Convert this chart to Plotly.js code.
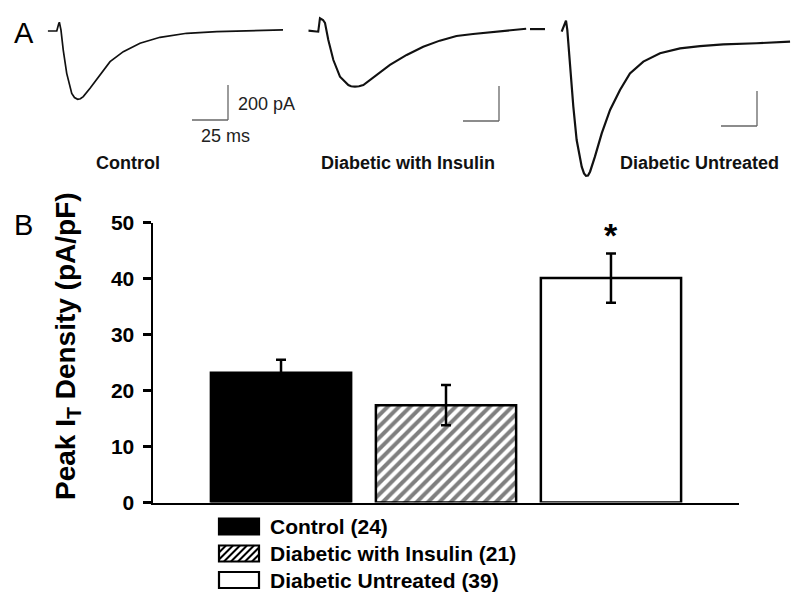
<!DOCTYPE html>
<html>
<head>
<meta charset="utf-8">
<script src="https://cdn.plot.ly/plotly-3.0.1.min.js"></script>
<style>html,body{margin:0;padding:0;background:#fff;}#chart{width:800px;height:598px;}</style>
</head>
<body>
<div id="chart"></div>
<script>
// ---------- Panel B data ----------
const groups = ["Control", "Diabetic with Insulin", "Diabetic Untreated"];
const legendLabels = ["Control (24)", "Diabetic with Insulin (21)", "Diabetic Untreated (39)"];
const peakDensity = [23.2, 17.4, 40.1];      // pA/pF
const peakSEM = [2.3, 3.6, 4.4];
const yTicks = [0, 10, 20, 30, 40, 50];

// ---------- Panel A traces (time ms, current pA) ----------
const ctrlT = [0, 6.3, 7.6, 8.1, 9.2, 10.8, 13.2, 16.7, 18.6, 20.8, 22.7, 24.7, 29.4, 36.3, 43.3, 52.5, 64.1, 78, 96.5, 117.4, 140.5, 163.4];
const ctrlI = [0, 0, 40, 50, 6, -109, -242, -357, -380, -390, -387, -375, -327, -251, -175, -118, -70, -36, -13, -4, 2, 6];

const insT = [0, 6.9, 8.1, 9.2, 10.2, 11.6, 13.9, 17.4, 22, 27.8, 29.7, 32.4, 35.2, 38.2, 47.5, 56.7, 68.3, 79.8, 91.3, 102.9, 114.4, 125.9, 137.4, 151.3];
const insI = [2, -4, 73, 68, 63, 46, -51, -166, -261, -309, -316, -318, -316, -309, -251, -194, -137, -90, -55, -29, -17, -7, 2, 13];

const untT = [0, 10.4, null, 22, 25, 25.9, 27.8, 30.1, 32.4, 35.9, 37.5, 38.9, 40.3, 41.7, 45.1, 49.8, 55.6, 62.5, 69.4, 78.7, 90.3, 104.2, 118.1, 134.2, 157.4, 180.6];
const untI = [11, 11, null, -4, 59, 6, -210, -433, -623, -775, -814, -827, -826, -804, -718, -585, -451, -337, -242, -175, -127, -99, -86, -76, -70, -61];

const scaleBarPA = 200, scaleBarMS = 25;
const traceNames = ["Control", "Diabetic with Insulin", "Diabetic Untreated"];

// ---------- layout helpers ----------
const W = 800, H = 598;
const px = x => x / W;
const py = y => 1 - y / H;
const MS_PX = 1.44, PA_PX = 0.175;
const topY0 = 8, topY1 = 192, baseY = 31;
const yTopRange = [-(topY1 - baseY) / PA_PX, (baseY - topY0) / PA_PX];
function panelX(x0, x1) {
  return {domain: [px(x0), px(x1)], range: [0, (x1 - x0) / MS_PX], visible: false, fixedrange: true};
}
function panelY() {
  return {domain: [py(topY1), py(topY0)], range: yTopRange, visible: false, fixedrange: true};
}
const panels = [
  {x0: 47.7, x1: 292, t: ctrlT, i: ctrlI, w: 1.7, barX: 228, barY: 85},
  {x0: 308.3, x1: 548, t: insT, i: insI, w: 2.1, barX: 499, barY: 86},
  {x0: 530, x1: 795, t: untT, i: untI, w: 2.2, barX: 757, barY: 91}
];

const data = [];
const shapes = [];
const annotations = [];
const FONT = "Liberation Sans, Arial, sans-serif";
const layout = {
  width: W, height: H,
  margin: {l: 0, r: 0, t: 0, b: 0},
  paper_bgcolor: "#fff", plot_bgcolor: "rgba(0,0,0,0)",
  showlegend: false,
  font: {family: FONT, color: "#000"},
  xaxis: {
    domain: [px(153), px(739)], range: [-0.776, 2.776], type: "category",
    showline: true, linewidth: 2.5, linecolor: "#000", ticks: "", showticklabels: false,
    showgrid: false, zeroline: false, fixedrange: true
  },
  yaxis: {
    domain: [py(502.5), py(222.7)], range: [0, 50],
    showline: true, linewidth: 2.5, linecolor: "#000",
    ticks: "outside", ticklen: 8, tickwidth: 2.5, tickcolor: "#000",
    tickvals: yTicks, ticktext: yTicks.map(String), ticklabelstandoff: 4,
    tickfont: {size: 21, weight: "bold", family: FONT},
    showgrid: false, zeroline: false, fixedrange: true
  }
};

panels.forEach((p, k) => {
  const n = k + 2;
  layout["xaxis" + n] = Object.assign(panelX(p.x0, p.x1), {anchor: "y" + n});
  layout["yaxis" + n] = Object.assign(panelY(), {anchor: "x" + n});
  data.push({
    type: "scatter", mode: "lines", x: p.t, y: p.i, name: traceNames[k],
    xaxis: "x" + n, yaxis: "y" + n, connectgaps: false,
    line: {color: "#111", width: p.w},
    hoverinfo: "skip"
  });
  // scale bars in data units
  const tEnd = (p.barX - p.x0) / MS_PX;
  const iTop = -(p.barY - baseY) / PA_PX;
  const iBot = iTop - scaleBarPA;
  shapes.push({type: "line", xref: "x" + n, yref: "y" + n, x0: tEnd, x1: tEnd, y0: iTop, y1: iBot, line: {color: "#666", width: 1.3}});
  shapes.push({type: "line", xref: "x" + n, yref: "y" + n, x0: tEnd - scaleBarMS, x1: tEnd, y0: iBot, y1: iBot, line: {color: "#666", width: 1.3}});
});

// bars
const barStyles = [
  {color: "#000", pattern: {shape: ""}},
  {color: "#fff", pattern: {shape: "/", fgcolor: "#000", bgcolor: "#fff", size: 8, solidity: 0.5, fillmode: "overlay"}},
  {color: "#fff", pattern: {shape: ""}}
];
groups.forEach((g, k) => {
  data.push({
    type: "bar", x: [g], y: [peakDensity[k]], name: legendLabels[k],
    width: 0.85,
    marker: {color: barStyles[k].color, pattern: barStyles[k].pattern, line: {color: "#000", width: 2.5}},
    error_y: {type: "data", array: [peakSEM[k]], visible: true, color: "#000", thickness: 2.5, width: 5},
    hoverinfo: "skip"
  });
});
layout.barmode = "overlay";

// significance star
annotations.push({xref: "x", yref: "y", x: groups[2], y: peakDensity[2] + peakSEM[2], text: "<b>*</b>",
  showarrow: false, yanchor: "bottom", yshift: -3, font: {size: 34, color: "#000"}});

// y-axis title
annotations.push({xref: "paper", yref: "paper", x: px(68), y: py(346), text: "<b>Peak I<sub>T</sub> Density (pA/pF)</b>",
  textangle: -90, showarrow: false, xanchor: "center", yanchor: "middle", font: {size: 28, color: "#000"}});

// panel letters
annotations.push({xref: "paper", yref: "paper", x: px(24), y: py(33), text: "A", showarrow: false, xanchor: "center", yanchor: "middle", font: {size: 29, color: "#000"}});
annotations.push({xref: "paper", yref: "paper", x: px(23), y: py(225), text: "B", showarrow: false, xanchor: "center", yanchor: "middle", font: {size: 29, color: "#000"}});

// scale bar labels (panel 1)
annotations.push({xref: "paper", yref: "paper", x: px(236), y: py(104), text: scaleBarPA + " pA", showarrow: false, xanchor: "left", yanchor: "middle", font: {size: 18, color: "#222"}});
annotations.push({xref: "paper", yref: "paper", x: px(199), y: py(136), text: scaleBarMS + " ms", showarrow: false, xanchor: "left", yanchor: "middle", font: {size: 18, color: "#222"}});

// trace labels
const labelX = [128, 408, 699];
traceNames.forEach((t, k) => {
  annotations.push({xref: "paper", yref: "paper", x: px(labelX[k]), y: py(163), text: "<b>" + t + "</b>", showarrow: false, xanchor: "center", yanchor: "middle", font: {size: 18, color: "#111"}});
});

// legend (drawn)
const legRows = [526.5, 553.5, 580];
const swX0 = 219, swX1 = 259, swH = 16;
legRows.forEach((yc, k) => {
  const y0 = yc - swH / 2, y1 = yc + swH / 2;
  shapes.push({type: "rect", xref: "paper", yref: "paper", x0: px(swX0), x1: px(swX1), y0: py(y1), y1: py(y0),
    fillcolor: k === 0 ? "#000" : "#fff", line: {color: "#000", width: 2.2}});
  if (k === 1) {
    let path = "";
    const step = 7;
    for (let s = swX0 - swH; s < swX1; s += step) {
      let xa = s, ya = y1, xb = s + swH, yb = y0;
      if (xa < swX0) { ya = y1 - (swX0 - xa); xa = swX0; }
      if (xb > swX1) { yb = y0 + (xb - swX1); xb = swX1; }
      if (xb <= xa) continue;
      path += `M${px(xa)},${py(ya)}L${px(xb)},${py(yb)}`;
    }
    shapes.push({type: "path", xref: "paper", yref: "paper", path: path, line: {color: "#000", width: 2}});
  }
  annotations.push({xref: "paper", yref: "paper", x: px(268), y: py(yc), text: "<b>" + legendLabels[k] + "</b>",
    showarrow: false, xanchor: "left", yanchor: "middle", font: {size: 21, color: "#000"}});
});

layout.shapes = shapes;
layout.annotations = annotations;

Plotly.newPlot("chart", data, layout, {displayModeBar: false, staticPlot: true});
</script>
</body>
</html>
